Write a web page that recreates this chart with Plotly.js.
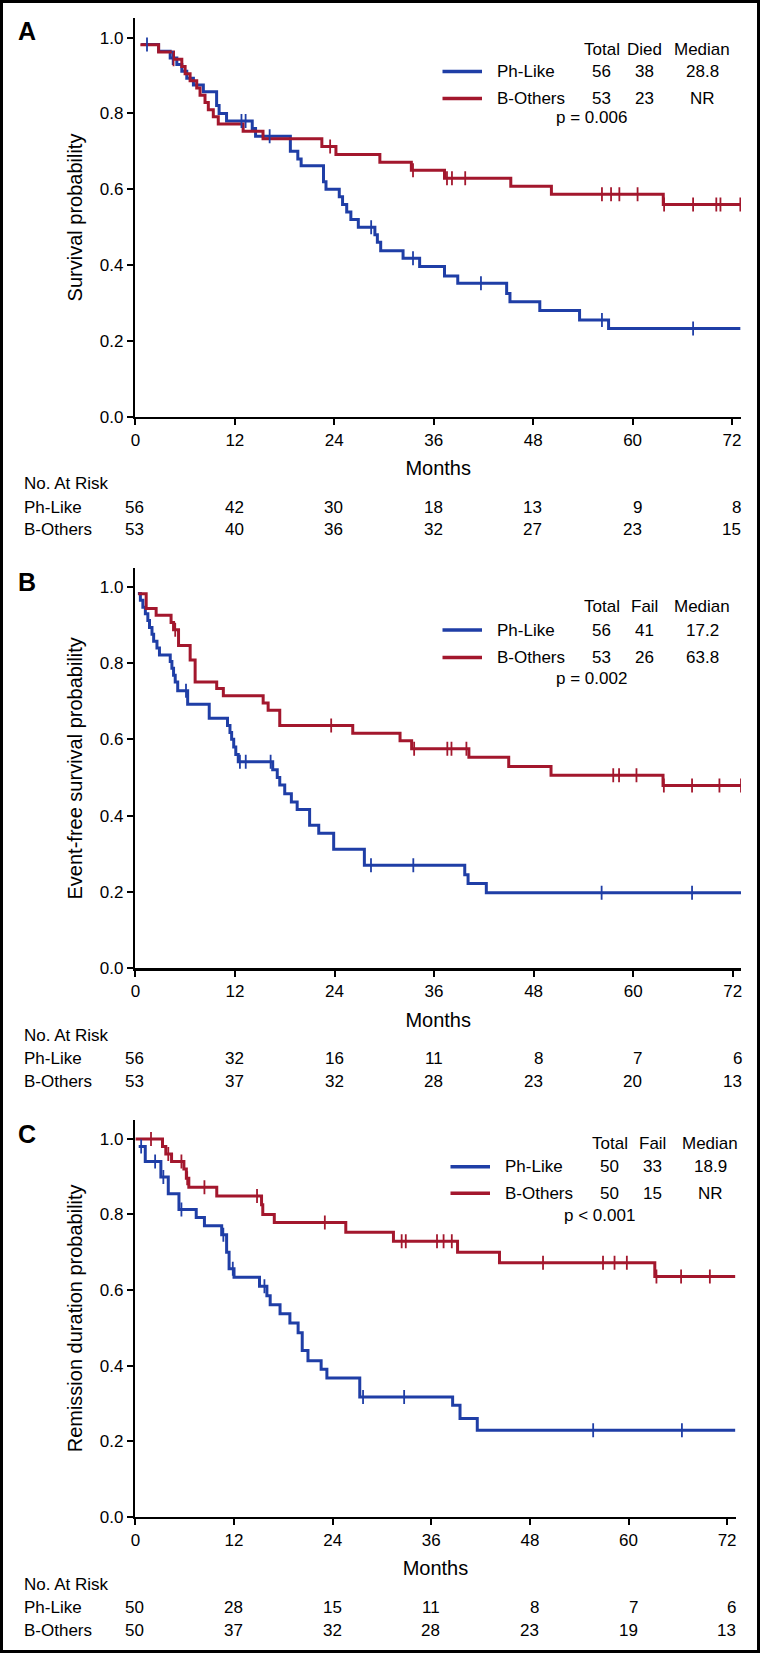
<!DOCTYPE html>
<html>
<head>
<meta charset="utf-8">
<script src="https://cdn.plot.ly/plotly-3.0.1.min.js"></script>
<style>html,body{margin:0;padding:0;background:#fff;}</style>
</head>
<body>
<div id="chart" style="width:762px;height:1656px;"></div>
<script>
// ---------------- DATA ----------------
const tickMonths = [0, 12, 24, 36, 48, 60, 72];
const probTicks = [0, 0.2, 0.4, 0.6, 0.8, 1.0];
const groupNames = ['Ph-Like', 'B-Others'];
const followEnd = 73.0;

// Panel A: overall survival
const osPhTime = [0.7, 2.8, 4.2, 5.0, 5.6, 6.2, 7.0, 8.2, 9.8, 10.1, 11.0, 14.1, 14.5, 18.7, 19.6, 20.0, 22.7, 23.0, 24.6, 25.0, 25.5, 26.0, 26.9, 28.9, 29.2, 29.6, 32.3, 34.3, 37.3, 38.9, 44.8, 45.2, 48.8, 53.6, 57.1];
const osPhSurv = [0.982, 0.964, 0.946, 0.929, 0.911, 0.893, 0.875, 0.857, 0.821, 0.800, 0.780, 0.760, 0.740, 0.700, 0.680, 0.662, 0.620, 0.600, 0.580, 0.560, 0.540, 0.520, 0.500, 0.480, 0.460, 0.438, 0.418, 0.396, 0.371, 0.352, 0.325, 0.303, 0.280, 0.255, 0.233];
const osPhCensor = [1.4, 4.5, 12.8, 13.3, 16.2, 28.45, 33.5, 41.7, 56.3, 67.3];
const osBTime = [0.6, 2.8, 4.6, 5.6, 6.0, 6.6, 7.4, 7.8, 8.4, 8.8, 9.4, 10.0, 13.0, 15.4, 22.5, 24.2, 29.5, 33.3, 37.3, 45.3, 50.2, 63.7];
const osBSurv = [0.981, 0.962, 0.943, 0.924, 0.905, 0.886, 0.867, 0.848, 0.829, 0.810, 0.791, 0.772, 0.753, 0.733, 0.713, 0.692, 0.671, 0.650, 0.629, 0.608, 0.587, 0.560];
const osBCensor = [4.6, 23.5, 33.5, 37.6, 38.2, 39.8, 56.3, 57.4, 58.4, 60.6, 63.8, 67.3, 70.1, 70.6, 73.0];
const osHeader = ['Total', 'Died', 'Median'];
const osPhStats = ['56', '38', '28.8'];
const osBStats = ['53', '23', 'NR'];
const osP = 'p = 0.006';
const osRiskPh = [56, 42, 30, 18, 13, 9, 8];
const osRiskB = [53, 40, 36, 32, 27, 23, 15];

// Panel B: event-free survival
const efsPhTime = [0.3, 0.6, 0.9, 1.2, 1.5, 1.7, 2.0, 2.2, 2.6, 2.9, 4.2, 4.4, 4.6, 4.8, 5.1, 6.3, 8.9, 11.1, 11.4, 11.6, 11.85, 12.1, 12.4, 16.55, 17.1, 17.4, 18.0, 18.8, 19.5, 21.0, 22.1, 23.9, 27.6, 39.7, 40.1, 42.3];
const efsPhSurv = [0.982, 0.964, 0.946, 0.929, 0.911, 0.893, 0.875, 0.857, 0.839, 0.821, 0.804, 0.786, 0.768, 0.750, 0.727, 0.692, 0.655, 0.636, 0.618, 0.600, 0.580, 0.560, 0.541, 0.520, 0.500, 0.480, 0.457, 0.436, 0.416, 0.375, 0.354, 0.312, 0.270, 0.245, 0.222, 0.198];
const efsPhCensor = [6.1, 12.6, 13.3, 16.3, 28.4, 33.5, 56.2, 67.1];
const efsBTime = [0.35, 1.3, 2.5, 4.3, 4.6, 5.2, 6.6, 7.2, 9.8, 10.6, 15.4, 16.0, 17.4, 26.2, 31.9, 33.3, 40.2, 45.0, 50.1, 63.6];
const efsBSurv = [0.981, 0.943, 0.925, 0.906, 0.887, 0.846, 0.808, 0.750, 0.733, 0.714, 0.695, 0.676, 0.636, 0.616, 0.596, 0.575, 0.553, 0.529, 0.506, 0.479];
const efsBCensor = [4.8, 23.6, 33.6, 37.6, 38.1, 39.9, 57.6, 58.3, 60.4, 63.7, 67.1, 70.4, 73.0];
const efsHeader = ['Total', 'Fail', 'Median'];
const efsPhStats = ['56', '41', '17.2'];
const efsBStats = ['53', '26', '63.8'];
const efsP = 'p = 0.002';
const efsRiskPh = [56, 32, 16, 11, 8, 7, 6];
const efsRiskB = [53, 37, 32, 28, 23, 20, 13];

// Panel C: remission duration
const rdPhTime = [0.4, 1.2, 3.1, 4.0, 5.3, 7.4, 8.4, 10.5, 11.1, 11.4, 12.0, 15.1, 16.0, 16.4, 17.6, 18.8, 19.8, 20.3, 21.0, 22.6, 23.3, 27.3, 38.6, 39.5, 41.6];
const rdPhSurv = [0.980, 0.940, 0.899, 0.855, 0.813, 0.792, 0.770, 0.746, 0.700, 0.656, 0.634, 0.610, 0.585, 0.561, 0.537, 0.513, 0.487, 0.440, 0.413, 0.390, 0.367, 0.317, 0.295, 0.260, 0.229];
const rdPhCensor = [0.7, 2.4, 3.4, 5.6, 10.7, 11.85, 15.7, 27.7, 32.7, 55.7, 66.5];
const rdBTime = [0, 3.3, 3.7, 4.4, 5.9, 6.2, 6.5, 9.9, 15.35, 15.5, 16.9, 25.6, 31.4, 39.2, 44.3, 63.2];
const rdBSurv = [1.0, 0.98, 0.96, 0.94, 0.92, 0.896, 0.872, 0.849, 0.826, 0.80, 0.779, 0.753, 0.729, 0.70, 0.672, 0.636];
const rdBCensor = [1.9, 4.0, 5.6, 6.3, 8.4, 14.8, 23.05, 32.4, 32.9, 36.7, 37.5, 38.5, 49.6, 56.9, 58.3, 59.8, 63.4, 66.4, 69.9];
const rdHeader = ['Total', 'Fail', 'Median'];
const rdPhStats = ['50', '33', '18.9'];
const rdBStats = ['50', '15', 'NR'];
const rdP = 'p < 0.001';
const rdRiskPh = [50, 28, 15, 11, 8, 7, 6];
const rdRiskB = [50, 37, 32, 28, 23, 19, 13];

// ---------------- STYLE ----------------
const W = 762, H = 1656;
const FONT = '"Liberation Sans", Arial, Helvetica, sans-serif';
const BLUE = '#1f3ea6';
const RED = '#a3172d';
const BLACK = '#000000';
const fx = p => p / W;          // pixel -> paper x
const fy = p => 1 - p / H;      // pixel -> paper y

function survAt(t, s, c) {
  let v = s[0];
  for (let i = 0; i < t.length; i++) if (t[i] <= c) v = s[i];
  return v;
}
function stepTrace(t, s, color, name, xa, ya) {
  return {
    type: 'scatter', mode: 'lines', name: name,
    x: t.concat([followEnd]), y: s.concat([s[s.length - 1]]),
    line: {shape: 'hv', color: color, width: 3},
    xaxis: xa, yaxis: ya, showlegend: false, hoverinfo: 'skip'
  };
}
function censorTrace(t, s, cens, color, name, xa, ya) {
  return {
    type: 'scatter', mode: 'markers', name: name + ' censored',
    x: cens, y: cens.map(c => survAt(t, s, c)),
    marker: {symbol: 'line-ns', size: 10, color: color, line: {width: 1.8, color: color}},
    xaxis: xa, yaxis: ya, showlegend: false, hoverinfo: 'skip'
  };
}

const panels = [
  {xa: 'x', ya: 'y', xd: [135.4, 741], yd: [18.3, 416.7], xr: 73.08, yr: 1.051,
   ytitle: 'Survival probability', label: 'A', labelY: 31,
   ph: [osPhTime, osPhSurv, osPhCensor], bo: [osBTime, osBSurv, osBCensor],
   header: osHeader, phStats: osPhStats, bStats: osBStats, p: osP,
   riskPh: osRiskPh, riskB: osRiskB,
   legRows: [49, 71.5, 98.5, 118], legX: 0,
   riskRows: [483.5, 507, 529.5]},
  {xa: 'x2', ya: 'y2', xd: [135.4, 741], yd: [568.3, 968.3], xr: 73.0, yr: 1.048,
   ytitle: 'Event-free survival probability', label: 'B', labelY: 582,
   ph: [efsPhTime, efsPhSurv, efsPhCensor], bo: [efsBTime, efsBSurv, efsBCensor],
   header: efsHeader, phStats: efsPhStats, bStats: efsBStats, p: efsP,
   riskPh: efsRiskPh, riskB: efsRiskB,
   legRows: [607, 630, 657.5, 678.5], legX: 0,
   riskRows: [1035, 1058.3, 1081.7]},
  {xa: 'x3', ya: 'y3', xd: [135.4, 735.5], yd: [1120, 1516.7], xr: 73.02, yr: 1.050,
   ytitle: 'Remission duration probability', label: 'C', labelY: 1134,
   ph: [rdPhTime, rdPhSurv, rdPhCensor], bo: [rdBTime, rdBSurv, rdBCensor],
   header: rdHeader, phStats: rdPhStats, bStats: rdBStats, p: rdP,
   riskPh: rdRiskPh, riskB: rdRiskB,
   legRows: [1143, 1166.7, 1193.3, 1215], legX: 8,
   riskRows: [1584, 1607.3, 1630]}
];

const data = [];
const annotations = [];
const shapes = [];
const layout = {
  width: W, height: H, margin: {l: 0, r: 0, t: 0, b: 0},
  paper_bgcolor: '#ffffff', plot_bgcolor: '#ffffff',
  font: {family: FONT, size: 17, color: BLACK},
  showlegend: false
};

function ann(text, x, y, extra) {
  return Object.assign({text: text, x: x, y: y, xref: 'paper', yref: 'paper',
    showarrow: false, xanchor: 'center', yanchor: 'middle',
    font: {family: FONT, size: 17, color: BLACK}}, extra || {});
}

panels.forEach((P, i) => {
  const n = i === 0 ? '' : String(i + 1);
  data.push(stepTrace(P.ph[0], P.ph[1], BLUE, groupNames[0], P.xa, P.ya));
  data.push(stepTrace(P.bo[0], P.bo[1], RED, groupNames[1], P.xa, P.ya));
  data.push(censorTrace(P.ph[0], P.ph[1], P.ph[2], BLUE, groupNames[0], P.xa, P.ya));
  data.push(censorTrace(P.bo[0], P.bo[1], P.bo[2], RED, groupNames[1], P.xa, P.ya));

  layout['xaxis' + n] = {
    domain: [fx(P.xd[0]), fx(P.xd[1])], range: [0, P.xr], anchor: P.ya,
    tickmode: 'array', tickvals: tickMonths, ticktext: tickMonths.map(String),
    ticks: 'outside', ticklen: 6, tickwidth: 2, tickcolor: BLACK,
    showline: true, linewidth: 2.5, linecolor: BLACK,
    showgrid: false, zeroline: false, fixedrange: true,
    tickfont: {family: FONT, size: 17, color: BLACK},
    title: {text: 'Months', font: {family: FONT, size: 20, color: BLACK}, standoff: 13}
  };
  layout['yaxis' + n] = {
    domain: [fy(P.yd[1]), fy(P.yd[0])], range: [0, P.yr], anchor: P.xa,
    tickmode: 'array', tickvals: probTicks, tickformat: '.1f',
    ticks: 'outside', ticklen: 6, tickwidth: 2, tickcolor: BLACK,
    showline: true, linewidth: 2.5, linecolor: BLACK,
    showgrid: false, zeroline: false, fixedrange: true,
    tickfont: {family: FONT, size: 17, color: BLACK},
    title: {text: P.ytitle, font: {family: FONT, size: 20, color: BLACK}, standoff: 12}
  };

  // panel letter
  annotations.push(ann('<b>' + P.label + '</b>', fx(27), fy(P.labelY), {font: {family: FONT, size: 25, color: BLACK}}));

  // legend table
  const dx = P.legX;
  const cols = [601.5 + dx, 644.5 + dx, 702 + dx];
  const r = P.legRows;
  P.header.forEach((h, k) => annotations.push(ann(h, fx(cols[k]), fy(r[0]))));
  annotations.push(ann(groupNames[0], fx(494.5 + dx), fy(r[1]), {xanchor: 'left'}));
  annotations.push(ann(groupNames[1], fx(494.5 + dx), fy(r[2]), {xanchor: 'left'}));
  P.phStats.forEach((v, k) => annotations.push(ann(v, fx(cols[k]), fy(r[1]))));
  P.bStats.forEach((v, k) => annotations.push(ann(v, fx(cols[k]), fy(r[2]))));
  annotations.push(ann(P.p, fx(591 + dx), fy(r[3])));
  shapes.push({type: 'line', xref: 'paper', yref: 'paper', x0: fx(442.5 + dx), x1: fx(482 + dx), y0: fy(r[1]), y1: fy(r[1]), line: {color: BLUE, width: 3.5}});
  shapes.push({type: 'line', xref: 'paper', yref: 'paper', x0: fx(442.5 + dx), x1: fx(482 + dx), y0: fy(r[2]), y1: fy(r[2]), line: {color: RED, width: 3.5}});

  // number at risk table
  const rr = P.riskRows;
  annotations.push(ann('No. At Risk', fx(22), fy(rr[0]), {xanchor: 'left'}));
  annotations.push(ann(groupNames[0], fx(22), fy(rr[1]), {xanchor: 'left'}));
  annotations.push(ann(groupNames[1], fx(22), fy(rr[2]), {xanchor: 'left'}));
  tickMonths.forEach((m, k) => {
    annotations.push(ann(String(P.riskPh[k]), m, fy(rr[1]), {xref: P.xa, xanchor: 'right', xshift: 11}));
    annotations.push(ann(String(P.riskB[k]), m, fy(rr[2]), {xref: P.xa, xanchor: 'right', xshift: 11}));
  });
});

// outer frame
shapes.push({type: 'rect', xref: 'paper', yref: 'paper', x0: fx(1.5), x1: fx(758.5), y0: fy(1.5), y1: fy(1651.5), line: {color: BLACK, width: 3}, fillcolor: 'rgba(0,0,0,0)'});

layout.annotations = annotations;
layout.shapes = shapes;

Plotly.newPlot('chart', data, layout, {staticPlot: true, displayModeBar: false});
</script>
</body>
</html>
